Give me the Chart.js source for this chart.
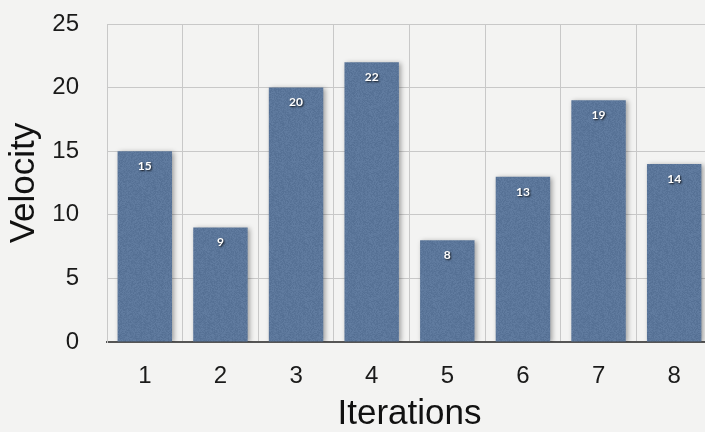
<!DOCTYPE html>
<html>
<head>
<meta charset="utf-8">
<script src="https://cdn.jsdelivr.net/npm/chart.js@4.4.1/dist/chart.umd.min.js"></script>
<style>
  html, body { margin: 0; padding: 0; overflow: hidden; background: #f3f3f2; }
  #wrap { position: relative; width: 714px; height: 432px; }
</style>
</head>
<body>
<div id="wrap"><canvas id="chart"></canvas></div>
<script>
// Sprint velocity per iteration
const iterations = ['1', '2', '3', '4', '5', '6', '7', '8'];
const velocity = [15, 9, 20, 22, 8, 13, 19, 14];
const yTicks = [0, 5, 10, 15, 20, 25];

// Slightly grainy slate-blue fill for the bars (deterministic hash noise)
function grainPattern() {
  const c = document.createElement('canvas');
  c.width = 64; c.height = 64;
  const g = c.getContext('2d');
  const img = g.createImageData(64, 64);
  for (let i = 0; i < 64 * 64; i++) {
    const h = Math.sin(i * 12.9898 + 78.233) * 43758.5453;
    const n = (h - Math.floor(h) - 0.5) * 14;
    img.data[i * 4] = 91 + n;
    img.data[i * 4 + 1] = 118 + n;
    img.data[i * 4 + 2] = 154 + n;
    img.data[i * 4 + 3] = 255;
  }
  g.putImageData(img, 0, 0);
  return g.createPattern(c, 'repeat');
}

// Soft drop shadow under the bars
const barShadow = {
  id: 'barShadow',
  beforeDatasetsDraw(chart) {
    const ctx = chart.ctx;
    ctx.save();
    ctx.shadowColor = 'rgba(0,0,0,0.35)';
    ctx.shadowBlur = 5;
    ctx.shadowOffsetX = 2;
    ctx.shadowOffsetY = 1;
  },
  afterDatasetsDraw(chart) {
    chart.ctx.restore();
  }
};

// Value label near the top of each bar
const valueLabels = {
  id: 'valueLabels',
  afterDatasetsDraw(chart) {
    const ctx = chart.ctx;
    const meta = chart.getDatasetMeta(0);
    const data = chart.data.datasets[0].data;
    ctx.save();
    ctx.font = 'bold 12px Lato, "DejaVu Sans", sans-serif';
    ctx.textAlign = 'center';
    ctx.textBaseline = 'middle';
    ctx.fillStyle = '#ffffff';
    ctx.shadowColor = 'rgba(0,0,0,0.85)';
    ctx.shadowBlur = 2;
    ctx.shadowOffsetX = 1;
    ctx.shadowOffsetY = 1;
    meta.data.forEach((bar, i) => {
      ctx.fillText(String(data[i]), bar.x, bar.y + 15);
    });
    ctx.restore();
  }
};

new Chart(document.getElementById('chart'), {
  type: 'bar',
  data: {
    labels: iterations,
    datasets: [{
      data: velocity,
      backgroundColor: grainPattern(),
      borderWidth: 0,
      barPercentage: 0.72,
      categoryPercentage: 1.0
    }]
  },
  options: {
    responsive: true,
    maintainAspectRatio: false,
    animation: false,
    layout: { padding: { top: 24, right: 2, bottom: 0, left: 0 } },
    plugins: {
      legend: { display: false },
      tooltip: { enabled: false }
    },
    scales: {
      x: {
        grid: { color: '#c8c8c8', lineWidth: 1, drawTicks: false, offset: true },
        border: { color: '#555555', width: 2 },
        ticks: {
          color: '#1a1a1a',
          padding: 20,
          font: { family: '"Liberation Sans", Arial, sans-serif', size: 24 }
        },
        title: {
          display: true,
          text: 'Iterations',
          color: '#111111',
          padding: { top: 0, bottom: 0 },
          font: { family: '"Liberation Sans", Arial, sans-serif', size: 35, lineHeight: 1 }
        },
        afterFit(scale) { scale.height = 90; }
      },
      y: {
        min: 0,
        max: 25,
        afterBuildTicks(scale) { scale.ticks = yTicks.map(v => ({ value: v })); },
        grid: { color: '#c8c8c8', lineWidth: 1, drawTicks: true, tickLength: 28, tickColor: 'rgba(0,0,0,0)' },
        border: { color: '#c8c8c8', width: 1 },
        ticks: {
          color: '#1a1a1a',
          padding: 0,
          font: { family: '"Liberation Sans", Arial, sans-serif', size: 24 }
        },
        title: {
          display: true,
          text: 'Velocity',
          color: '#111111',
          padding: { top: 7, bottom: 0 },
          font: { family: '"Liberation Sans", Arial, sans-serif', size: 35, lineHeight: 1 }
        },
        afterFit(scale) { scale.width = 107; }
      }
    }
  },
  plugins: [barShadow, valueLabels]
});
</script>
</body>
</html>
